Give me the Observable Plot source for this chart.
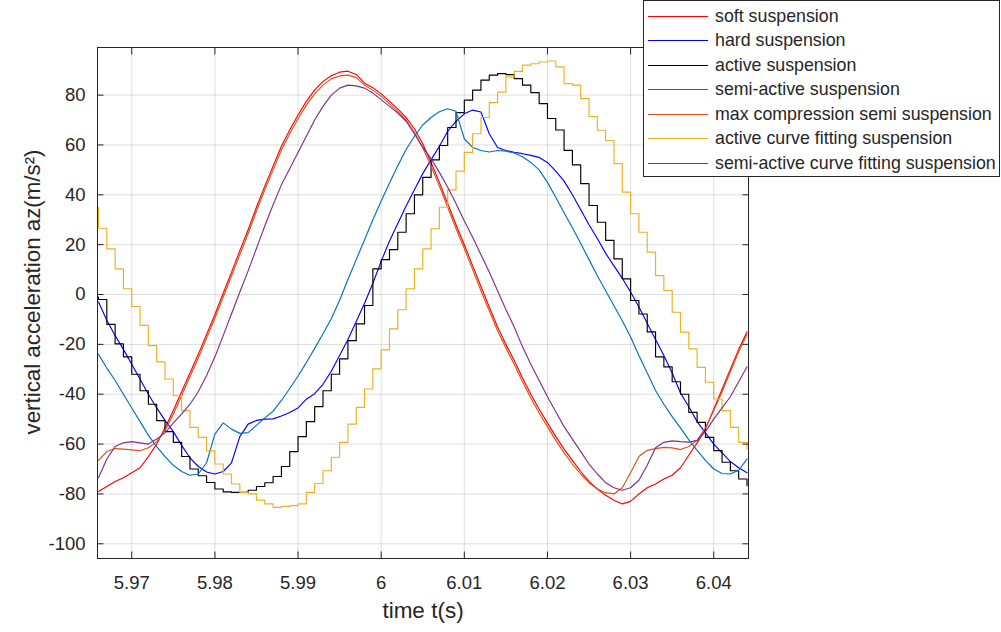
<!DOCTYPE html>
<html>
<head>
<meta charset="utf-8">
<script src="https://cdn.jsdelivr.net/npm/d3@7"></script>
<script src="https://cdn.jsdelivr.net/npm/@observablehq/plot@0.6"></script>
<style>
  html, body { margin: 0; padding: 0; background: #fff; overflow: hidden; }
  #wrap { position: relative; width: 1001px; height: 632px; font-family: "Liberation Sans", Arial, Helvetica, sans-serif; }
  #legend { position: absolute; left: 643px; top: 0px; width: 357px; height: 177px; box-sizing: border-box;
            border: 1px solid #262626; background: #fff; padding-top: 3px; }
  .row { height: 24.5px; display: flex; align-items: center; white-space: nowrap; }
  .sw { width: 60px; height: 0; border-top: 1.3px solid; margin-left: 4px; margin-right: 7px; }
  .lab { font-size: 17.8px; color: #262626; }
</style>
</head>
<body>
<div id="wrap"><div id="chart"></div><div id="legend"></div></div>
<script>
// ---- data ----
const time = [5.966,5.967,5.968,5.969,5.970,5.971,5.972,5.973,5.974,5.975,
              5.976,5.977,5.978,5.979,5.980,5.981,5.982,5.983,5.984,5.985,
              5.986,5.987,5.988,5.989,5.990,5.991,5.992,5.993,5.994,5.995,
              5.996,5.997,5.998,5.999,6.000,6.001,6.002,6.003,6.004,6.005,
              6.006,6.007,6.008,6.009,6.010,6.011,6.012,6.013,6.014,6.015,
              6.016,6.017,6.018,6.019,6.020,6.021,6.022,6.023,6.024,6.025,
              6.026,6.027,6.028,6.029,6.030,6.031,6.032,6.033,6.034,6.035,
              6.036,6.037,6.038,6.039,6.040,6.041,6.042,6.043,6.044];
const stepTime = [5.9659].concat(time);

const soft = [-79,-77,-75,-73.5,-71.5,-69.5,-65,-60,-53.5,-46.5,
              -39,-31.5,-24,-16,-8,0.5,9,17.5,26,35,
              43.5,51.5,59.5,66,72,77.5,82,85.5,87.8,89.2,
              89.6,88.3,84.8,83,80.5,77.5,74.5,71,66.5,60.5,
              53,45,36.5,28,20,11.5,3.2,-5,-13,-20,
              -26.5,-33.5,-40,-46,-51.5,-57,-62,-66.5,-71,-75,
              -78,-80.5,-82.5,-84,-83,-80,-77.5,-76,-74,-72.5,
              -69.5,-64.5,-59.5,-54,-46,-38,-30,-22,-15];
const hard = [-3,-10.3,-16.5,-22,-28,-34,-40,-45.5,-50.5,-55,
              -60.5,-65.5,-69,-71.2,-72,-71,-67.5,-57,-52,-50.5,
              -50,-49.9,-48.7,-47.3,-45.5,-42,-39.8,-36,-30.8,-24.5,
              -18,-10.8,-3.5,4.5,13.3,21.5,28.5,35.5,42,48.5,
              54,59.5,65.5,69.5,72.5,74,73.2,64.5,59,57.8,
              57.1,56.5,55.8,55,53,49.5,45.5,40,34,28,
              22.5,16.5,11.5,6.5,1,-5,-11.5,-18,-24.5,-31.5,
              -39.5,-45,-51,-55.5,-60,-63.5,-67,-69.5,-71.5];
const active = [-1,
              -2,-12,-19.8,-25,-32,-38.6,-44,-50.6,-55,-59.3,
              -65,-70,-72.7,-75.4,-78,-79.2,-79.4,-79.4,-78.5,-77,
              -75.5,-73,-69,-63,-57,-51,-45,-38.6,-32,-25.8,
              -18.5,-11.8,-4.4,10.3,14,18,25,32.4,40,47,
              54,59.8,67,73,78,82,86,88,88.6,88.2,
              86.6,84,81,76.6,70.6,66,57.8,52,44.5,35.7,
              29,21.7,14.3,6.3,-2.4,-7.8,-15,-25,-29,-35,
              -40,-47.3,-51.3,-57.3,-62.6,-67.3,-70.7,-74,-76.7];
const semiActive = [-24,-29.5,-34.5,-40,-45.5,-51,-56.5,-61,-65,-68.5,
              -71,-72.5,-72,-67.5,-56,-51.5,-54,-55.7,-55.4,-52.5,
              -49.5,-46.8,-42.5,-37.7,-32.7,-27.3,-21.6,-15.7,-9.7,-2.3,
              6,14,22,30,37.5,44.7,51.7,58.2,63.5,68,
              71,73.3,74.5,73.5,62.5,59,57.8,57.2,57.8,57.5,
              56.8,55.3,53,50,45,39,32.8,26.8,20.5,14,
              7.5,1.5,-4.5,-10.5,-17,-24.5,-31.5,-38.5,-44,-49,
              -53.5,-58.3,-62.5,-66.5,-70,-71.8,-72,-70.5,-66];
const maxComp = [-66.5,-63,-61.8,-62,-62.3,-62.7,-61.5,-59,-54.5,-48,
              -40.5,-33,-25.5,-17.5,-9.5,-1,7.5,16,24.5,33.5,
              42,50,58,64.5,70.5,76,80.5,84,86.5,87.7,
              88,87,84,82,79.5,76.5,73.5,70,65,59,
              51.5,43.5,35,26.5,18.5,10,1.5,-6.5,-14.5,-21.5,
              -28,-35,-41.5,-47.5,-53,-58.5,-63.5,-68,-72,-75.5,
              -78,-79.5,-80,-77.5,-71.5,-65,-62.5,-61.8,-61.3,-61.5,
              -62.2,-61,-58.5,-53.5,-46.5,-39,-31,-23,-16];
const activeFit = [35,
              26.6,18.3,10.3,2.3,-4.8,-12.4,-20.5,-27,-33.9,-40.6,
              -46.6,-53.3,-57.3,-62.7,-68,-72,-76,-79.4,-80,-82.5,
              -84,-85.4,-85,-84.7,-84,-79.4,-75.8,-70.7,-65.3,-59.3,
              -52,-45.3,-37.9,-29.8,-22.2,-13.8,-6.1,2.3,10.3,18.3,
              26.4,35,42,49.5,57,64.5,71,77,81.2,87.3,
              89.5,92,92.6,93.3,93.7,91.3,84.6,84,78.6,71.4,
              65.9,61.8,52.5,41.1,32.4,25,17,7.6,1.6,-7.1,
              -15.1,-21.8,-29.2,-35.2,-41.9,-46.6,-53.3,-59.3,-62];
const semiFit = [-73.5,-66,-61,-59.5,-59,-59.5,-60,-58,-55.5,-51.5,
              -48,-44,-39,-32.5,-25,-16.5,-7.7,1,9.5,18.5,
              27.5,36,44,50.5,57,63.5,70,75.5,80,82.8,
              84,83.7,82.8,80.8,78.2,75.5,72.8,69.5,64.5,59,
              54.5,49,43,36.5,29.5,23,16,9,1.5,-6,
              -13,-21,-28,-34.5,-41,-47,-53,-58,-63,-68,
              -72,-75.5,-77.5,-78.5,-77.5,-74.5,-68.5,-61.5,-59.3,-58.7,
              -59,-59.2,-58.5,-55,-50,-45.5,-41,-35,-29];

const seriesNames = ["soft suspension","hard suspension","active suspension","semi-active suspension",
                     "max compression semi suspension","active curve fitting suspension",
                     "semi-active curve fitting suspension"];
const seriesColors = ["#ff0000","#0000ff","#000000","#0072bd","#d95319","#edb120","#7e2f8e"];
const seriesValues = [soft, hard, active, semiActive, maxComp, activeFit, semiFit];
const seriesTimes  = [time, time, stepTime, time, time, stepTime, time];
const seriesCurves = ["linear","linear","step-after","linear","linear","step-after","linear"];

const xTicks = [5.97, 5.98, 5.99, 6, 6.01, 6.02, 6.03, 6.04];
const yTicks = [-100, -80, -60, -40, -20, 0, 20, 40, 60, 80];
const xDomain = [5.96588, 6.04418];
const yDomain = [-105.9, 99.1];
const xLabel = "time t(s)";
const yLabel = "vertical acceleration az(m/s\u00B2)";

// ---- chart ----
const lineMarks = seriesNames.map((name, i) =>
  Plot.line(seriesValues[i].map((v, j) => ({t: seriesTimes[i][j], a: v})),
    {x: "t", y: "a", stroke: seriesColors[i], strokeWidth: 1.15, curve: seriesCurves[i], clip: true}));

const axisColor = "#262626";
const chart = Plot.plot({
  width: 1001, height: 632,
  marginLeft: 97, marginRight: 253, marginTop: 47, marginBottom: 74,
  style: {fontFamily: "'Liberation Sans', Arial, Helvetica, sans-serif", fontSize: "18.5px", color: axisColor, background: "#fff"},
  x: {domain: xDomain},
  y: {domain: yDomain},
  marks: [
    Plot.gridX(xTicks, {stroke: "#000", strokeOpacity: 0.13}),
    Plot.gridY(yTicks, {stroke: "#000", strokeOpacity: 0.13}),
    ...lineMarks,
    Plot.frame({stroke: axisColor, strokeWidth: 1}),
    Plot.axisX(xTicks, {anchor: "bottom", tickSize: -6.5, tickPadding: 24, tickFormat: d => String(d), label: null, stroke: axisColor}),
    Plot.axisX(xTicks, {anchor: "top", tickSize: -6.5, tickFormat: () => "", label: null, stroke: axisColor}),
    Plot.axisY(yTicks, {anchor: "left", tickSize: -6.5, tickPadding: 18.5, tickFormat: d => String(d), label: null, stroke: axisColor}),
    Plot.axisY(yTicks, {anchor: "right", tickSize: -6.5, tickFormat: () => "", label: null, stroke: axisColor}),
    Plot.text([xLabel], {text: d => d, frameAnchor: "bottom", textAnchor: "middle", lineAnchor: "middle", dy: 52, fontSize: 22.5, fill: axisColor}),
    Plot.text([yLabel], {text: d => d, frameAnchor: "left", textAnchor: "middle", lineAnchor: "middle", dx: -65, dy: -11, rotate: -90, fontSize: 22.3, fill: axisColor})
  ]
});
document.getElementById("chart").appendChild(chart);

// ---- legend ----
const legend = document.getElementById("legend");
seriesNames.forEach((name, i) => {
  const row = document.createElement("div");
  row.className = "row";
  const sw = document.createElement("div");
  sw.className = "sw";
  sw.style.borderTopColor = seriesColors[i];
  const lab = document.createElement("span");
  lab.className = "lab";
  lab.textContent = name;
  row.appendChild(sw); row.appendChild(lab);
  legend.appendChild(row);
});
</script>
</body>
</html>
